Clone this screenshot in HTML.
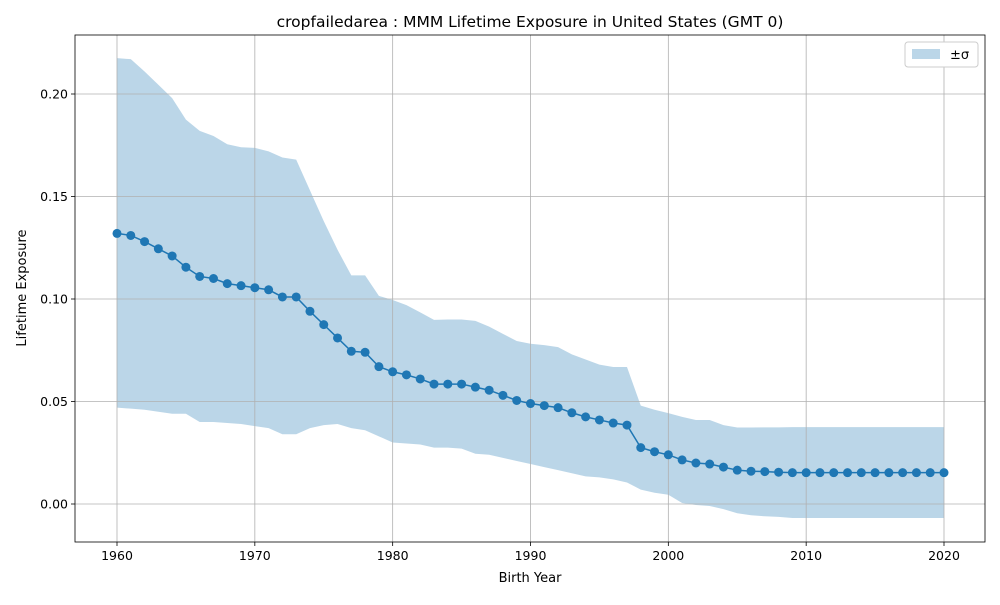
<!DOCTYPE html>
<html><head><meta charset="utf-8"><style>
body{margin:0;background:#fff;}
svg text{font-family:"DejaVu Sans","Liberation Sans",sans-serif;fill:#000;}
</style></head><body>
<svg id="chart" width="1000" height="600" xmlns="http://www.w3.org/2000/svg">
<g id="band"></g>
<g id="grid"></g>
<g id="series"></g>
<g id="axes"></g>
<text x="530" y="27" font-size="15.5" text-anchor="middle">cropfailedarea : MMM Lifetime Exposure in United States (GMT 0)</text>
<text x="530" y="582" font-size="13" text-anchor="middle">Birth Year</text>
<text x="26" y="288" font-size="13" text-anchor="middle" transform="rotate(-90 26 288)">Lifetime Exposure</text>
<g>
<rect x="905" y="42" width="73" height="25" rx="3" fill="#fff" stroke="#ccc"/>
<rect x="912" y="49" width="28" height="10" fill="#1f77b4" fill-opacity="0.3"/>
<text x="950" y="59" font-size="13">±σ</text>
</g>
</svg>
<script>
const years=[];for(let y=1960;y<=2020;y++)years.push(y);
const meanVals=[.132,.131,.128,.1245,.121,.1155,.111,.11,.1075,.1065,.1055,.1045,.101,.101,.094,.0875,.081,.0745,.074,.067,.0645,.063,.061,.0585,.0585,.0585,.057,.0555,.053,.0505,.049,.048,.047,.0445,.0425,.041,.0395,.0385,.0275,.0255,.024,.0215,.020,.0195,.018,.0165,.016,.0158,.0155,.0153,.0153,.0153,.0153,.0153,.0153,.0153,.0153,.0153,.0153,.0153,.0153];
const upperVals=[.2175,.217,.211,.2045,.198,.1875,.182,.1795,.1755,.174,.1737,.172,.169,.168,.153,.138,.124,.1115,.1115,.1015,.0995,.097,.0935,.0898,.09,.09,.0893,.0865,.083,.0795,.0782,.0775,.0765,.073,.0705,.068,.0668,.0668,.048,.046,.0443,.0425,.041,.041,.0385,.0373,.0373,.0374,.0374,.0375,.0375,.0375,.0375,.0375,.0375,.0375,.0375,.0375,.0375,.0375,.0375];
const lowerVals=[.047,.0465,.046,.045,.044,.044,.040,.040,.0395,.039,.038,.037,.034,.034,.037,.0385,.039,.037,.036,.033,.030,.0295,.029,.0275,.0275,.027,.0245,.024,.0225,.021,.0195,.018,.0165,.015,.0135,.013,.012,.0105,.007,.0055,.0045,.0005,-.0005,-.001,-.0025,-.0045,-.0055,-.006,-.0063,-.0068,-.0068,-.0068,-.0068,-.0068,-.0068,-.0068,-.0068,-.0068,-.0068,-.0068,-.0068];
const xTicks=[1960,1970,1980,1990,2000,2010,2020];
const yTicks=[0,0.05,0.10,0.15,0.20];
const yTickLabels=["0.00","0.05","0.10","0.15","0.20"];
const L=75,R=985,T=35,B=542;
const xS=v=>117+(v-1960)*(827/60);
const yS=v=>504-v*2050;
const NS="http://www.w3.org/2000/svg";
function mk(tag,attrs,parent){const e=document.createElementNS(NS,tag);for(const k in attrs)e.setAttribute(k,attrs[k]);parent.appendChild(e);return e;}
const grid=document.getElementById('grid'),axes=document.getElementById('axes'),band=document.getElementById('band'),series=document.getElementById('series');
xTicks.forEach(t=>{const x=xS(t);
const g=mk('line',{x1:x,x2:x,y1:T,y2:B,stroke:'#b0b0b0','stroke-width':0.8},grid);


mk('line',{x1:x,x2:x,y1:B,y2:B+4,stroke:'#000','stroke-width':0.8},axes);
const tx=mk('text',{x:x,y:B+18,'font-size':12.5,'text-anchor':'middle'},axes);tx.textContent=t;


});
yTicks.forEach((t,i)=>{const y=yS(t);
const g=mk('line',{x1:L,x2:R,y1:y,y2:y,stroke:'#b0b0b0','stroke-width':0.8},grid);


mk('line',{x1:L-4,x2:L,y1:y,y2:y,stroke:'#000','stroke-width':0.8},axes);
const tx=mk('text',{x:L-7,y:y+4.5,'font-size':12.5,'text-anchor':'end'},axes);tx.textContent=yTickLabels[i];


});
const fr=mk('rect',{x:L,y:T,width:R-L,height:B-T,fill:'none',stroke:'#000','stroke-width':0.8},axes);


let d='M'+years.map((y,i)=>xS(y)+','+yS(upperVals[i])).join('L');
for(let i=years.length-1;i>=0;i--)d+='L'+xS(years[i])+','+yS(lowerVals[i]);
const bp=mk('path',{d:d+'Z',fill:'#1f77b4','fill-opacity':0.3},band);


const ln=mk('polyline',{points:years.map((y,i)=>xS(y)+','+yS(meanVals[i])).join(' '),fill:'none',stroke:'#1f77b4','stroke-width':1.5},series);


years.forEach((y,i)=>{const c=mk('circle',{cx:xS(y),cy:yS(meanVals[i]),r:4.5,fill:'#1f77b4'},series);


});
</script>
</body></html>
